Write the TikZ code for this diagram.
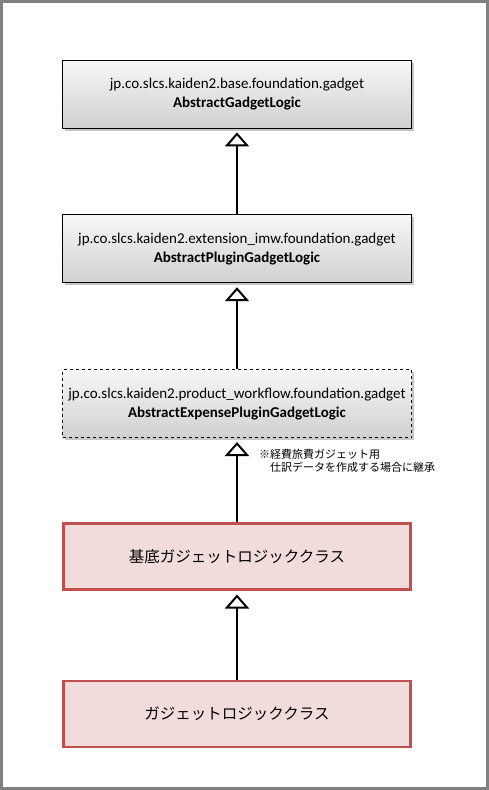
\documentclass[tikz,border=0pt]{standalone}
\usepackage{fontspec}
\setmainfont{Carlito}
\newfontfamily\jpfont{Noto Sans CJK JP}
\usetikzlibrary{positioning,arrows.meta,shadows}
\definecolor{FrameGray}{HTML}{808080}
\definecolor{BoxTop}{HTML}{F7F7F7}
\definecolor{BoxBottom}{HTML}{D0D0D0}
\definecolor{ImplRed}{HTML}{C0504D}
\definecolor{ImplPale}{HTML}{F2DCDB}

\begin{document}
\begin{tikzpicture}[x=1pt,y=1pt,node distance=86pt]
  \tikzstyle{pkgbox}=[draw=black,line width=0.8pt,top color=BoxTop,bottom color=BoxBottom,
    minimum width=349pt,minimum height=68pt,align=center,
    drop shadow={shadow xshift=2pt,shadow yshift=-2.5pt,opacity=0.45},
    font=\fontsize{15}{19}\selectfont]
  \tikzstyle{implbox}=[draw=ImplRed,line width=2.5pt,fill=ImplPale,
    minimum width=347pt,minimum height=66pt,align=center,
    font=\jpfont\fontsize{15.5}{18}\selectfont]
  \tikzstyle{inherit}=[line width=2pt,-{Triangle[open,width=24pt,length=14pt,line width=2pt]},
    shorten >=4pt]
  \useasboundingbox (0,0) rectangle (489,-790);
  \draw[FrameGray,line width=3pt] (1.5,-1.5) rectangle (487.5,-788.5);
  % class hierarchy
  \node[pkgbox] (base) at (237,-94) {jp.co.slcs.kaiden2.base.foundation.gadget\\\textbf{AbstractGadgetLogic}};
  \node[pkgbox,below=of base] (plugin) {jp.co.slcs.kaiden2.extension\_imw.foundation.gadget\\\textbf{AbstractPluginGadgetLogic}};
  \node[pkgbox,dashed,below=of plugin] (expense) {jp.co.slcs.kaiden2.product\_workflow.foundation.gadget\\\textbf{AbstractExpensePluginGadgetLogic}};
  \node[implbox,below=84pt of expense] (basecls) {基底ガジェットロジッククラス};
  \node[implbox,below=89pt of basecls] (gadget) {ガジェットロジッククラス};
  \node[inner sep=0pt,align=left,anchor=north west,font=\jpfont\fontsize{11}{13}\selectfont,
    below right=11pt and 22pt of expense.south] (note) {※経費旅費ガジェット用\\　仕訳データを作成する場合に継承};
  \draw[inherit] (plugin) -- (base);
  \draw[inherit] (expense) -- (plugin);
  \draw[inherit] (basecls) -- (expense);
  \draw[inherit] (gadget) -- (basecls);
\end{tikzpicture}
\end{document}
